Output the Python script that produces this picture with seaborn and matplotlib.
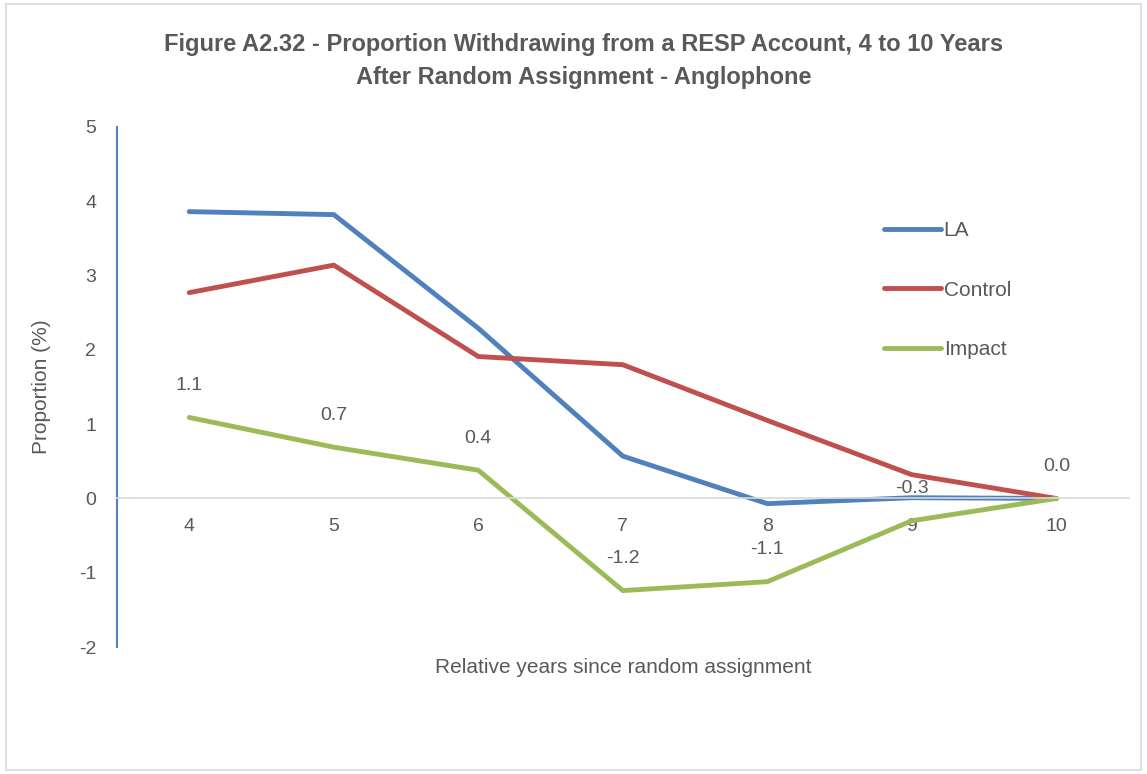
import pandas as pd
import matplotlib.pyplot as plt
import seaborn as sns
from matplotlib.patches import Rectangle

# data
years = [4, 5, 6, 7, 8, 9, 10]
la = [3.86, 3.82, 2.29, 0.57, -0.07, 0.01, 0.0]
control = [2.77, 3.14, 1.91, 1.80, 1.05, 0.32, 0.0]
impact = [1.09, 0.69, 0.38, -1.24, -1.12, -0.30, 0.0]
impact_labels = ["1.1", "0.7", "0.4", "-1.2", "-1.1", "-0.3", "0.0"]
series_names = ["LA", "Control", "Impact"]
colors = ["#4F81BD", "#C0504D", "#9BBB59"]

df = pd.DataFrame({
    "year": years * 3,
    "value": la + control + impact,
    "series": [s for s in series_names for _ in years],
})

sns.set_style("white")
plt.rcParams['font.family'] = ['Liberation Sans', 'DejaVu Sans']
plt.rcParams['axes.unicode_minus'] = False
txt = "#595959"

fig = plt.figure(figsize=(11.47, 7.74), dpi=100)
ax = fig.add_axes([0.102, 0.164, 0.882, 0.672])
fig.patches.append(Rectangle((0.005, 0.005), 0.99, 0.99, transform=fig.transFigure,
                             fill=False, edgecolor="#D9D9D9", linewidth=1.2))

sns.lineplot(data=df, x="year", y="value", hue="series", hue_order=series_names,
             palette=colors, linewidth=3.5, ax=ax, solid_capstyle="round")

for x, y, lab in zip(years, impact, impact_labels):
    ax.annotate(lab, (x, y), xytext=(0, 23), textcoords="offset points",
                ha="center", va="center", fontsize=14, color=txt)

ax.set_xlim(3.5, 10.5)
ax.set_ylim(-2, 5)
ax.set_xticks(years)
ax.set_yticks(range(-2, 6))
ax.spines["bottom"].set_position(("data", 0))
ax.spines["bottom"].set_color("#D9D9D9")
ax.spines["bottom"].set_linewidth(1.2)
ax.spines["left"].set_color("#4F81BD")
ax.spines["left"].set_linewidth(1.5)
ax.spines["top"].set_visible(False)
ax.spines["right"].set_visible(False)
ax.tick_params(axis="x", length=0, pad=14, labelsize=14, labelcolor=txt)
ax.tick_params(axis="y", length=0, pad=15, labelsize=14, labelcolor=txt)

ax.set_xlabel("")
ax.set_ylabel("Proportion (%)", fontsize=15, color=txt, labelpad=20)
fig.text(0.543, 0.138, "Relative years since random assignment", ha="center",
         va="center", fontsize=15, color=txt)

fig.suptitle("Figure A2.32 - Proportion Withdrawing from a RESP Account, 4 to 10 Years\n"
             "After Random Assignment - Anglophone",
             x=0.509, y=0.921, va="center", fontsize=17, fontweight="bold", color=txt,
             linespacing=1.55)

ax.legend(loc="upper left", bbox_to_anchor=(0.74, 0.855), frameon=False, fontsize=15,
          labelcolor=txt, handlelength=2.7, handletextpad=0.15, labelspacing=1.95)

fig.savefig("out.png", dpi=100)
